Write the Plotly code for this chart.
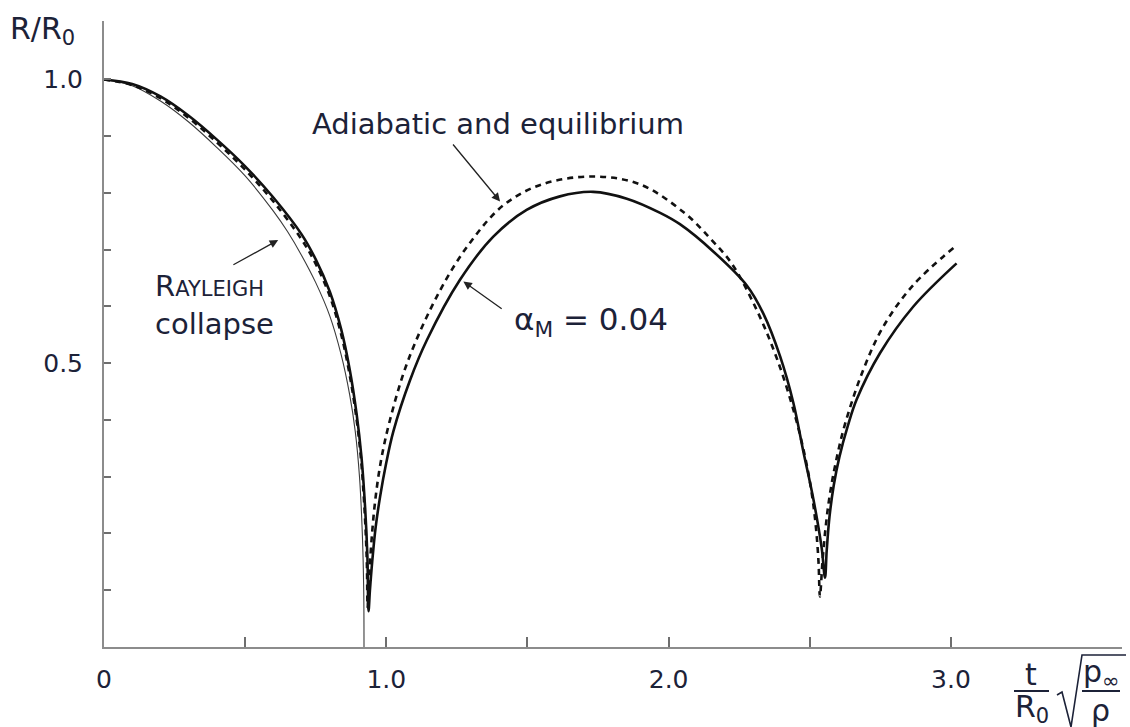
import plotly.graph_objects as go

# Rayleigh collapse of an empty cavity (R/R0 against scaled time)
rayleigh_t = [0.000, 0.100, 0.200, 0.300, 0.400, 0.500, 0.600, 0.650, 0.700, 0.750,
              0.800, 0.840, 0.870, 0.890, 0.905, 0.915, 0.920, 0.921]
rayleigh_r = [1.000, 0.989, 0.962, 0.925, 0.880, 0.830, 0.768, 0.732, 0.690, 0.642,
              0.583, 0.515, 0.445, 0.380, 0.300, 0.200, 0.100, 0.000]

# Gas-filled bubble with mass-transfer coefficient alpha_M = 0.04 (solid)
alpha_t = [0.000, 0.100, 0.200, 0.300, 0.400, 0.500, 0.600, 0.700, 0.750, 0.800,
           0.840, 0.870, 0.895, 0.912, 0.925, 0.933, 0.937,
           0.942, 0.950, 0.962, 0.978, 1.000, 1.025, 1.084, 1.143, 1.261, 1.379,
           1.497, 1.615, 1.733, 1.852, 1.970, 2.040, 2.158, 2.277, 2.336, 2.395,
           2.442, 2.477, 2.513, 2.542, 2.554,
           2.560, 2.570, 2.585, 2.605, 2.635, 2.666, 2.749, 2.867, 3.020]
alpha_r = [1.000, 0.992, 0.970, 0.936, 0.894, 0.847, 0.792, 0.727, 0.683, 0.626,
           0.560, 0.490, 0.410, 0.335, 0.245, 0.160, 0.063,
           0.100, 0.150, 0.210, 0.265, 0.325, 0.380, 0.470, 0.540, 0.647, 0.723,
           0.770, 0.794, 0.802, 0.790, 0.765, 0.745, 0.697, 0.637, 0.587, 0.512,
           0.430, 0.345, 0.260, 0.175, 0.122,
           0.170, 0.230, 0.285, 0.335, 0.390, 0.436, 0.518, 0.600, 0.676]

# Adiabatic and equilibrium bubble (dashed)
adiabatic_t = [0.000, 0.100, 0.200, 0.300, 0.400, 0.500, 0.600, 0.700, 0.750, 0.800,
               0.840, 0.870, 0.895, 0.912, 0.924, 0.931, 0.934,
               0.940, 0.948, 0.960, 0.980, 1.013, 1.078, 1.190, 1.296, 1.414, 1.550,
               1.733, 1.900, 2.058, 2.147, 2.223, 2.312, 2.383, 2.442, 2.483, 2.507,
               2.522, 2.531, 2.536,
               2.545, 2.556, 2.570, 2.592, 2.625, 2.690, 2.761, 2.867, 3.009]
adiabatic_r = [1.000, 0.990, 0.967, 0.932, 0.889, 0.841, 0.785, 0.718, 0.675, 0.618,
               0.551, 0.480, 0.400, 0.322, 0.232, 0.150, 0.070,
               0.130, 0.190, 0.255, 0.325, 0.400, 0.506, 0.628, 0.712, 0.778, 0.815,
               0.829, 0.815, 0.764, 0.720, 0.676, 0.594, 0.509, 0.418, 0.336, 0.271,
               0.210, 0.150, 0.089,
               0.150, 0.210, 0.265, 0.325, 0.393, 0.489, 0.565, 0.638, 0.703]

x_tick_vals = [0, 0.5, 1.0, 1.5, 2.0, 2.5, 3.0]
x_tick_text = ["0", "", "1.0", "", "2.0", "", "3.0"]
y_tick_vals = [0.1, 0.2, 0.3, 0.4, 0.5, 0.6, 0.7, 0.8, 0.9, 1.0]
y_tick_text = ["", "", "", "", "0.5", "", "", "", "", "1.0"]

W, H = 1130, 727
ML, MR, MT, MB = 104, 8, 21, 80
FONT = "DejaVu Sans"
TXT = "#1c2238"


def px(x):
    return (x - ML) / (W - ML - MR)


def py(y):
    return (H - MB - y) / (H - MT - MB)


fig = go.Figure()
fig.add_trace(go.Scatter(x=rayleigh_t, y=rayleigh_r, mode="lines",
                         line=dict(color="#3a3a3a", width=1.1, shape="spline", smoothing=1.0),
                         showlegend=False, hoverinfo="skip"))
fig.add_trace(go.Scatter(x=adiabatic_t, y=adiabatic_r, mode="lines",
                         line=dict(color="#111", width=2.6, dash="6px,5px", shape="spline", smoothing=1.0),
                         showlegend=False, hoverinfo="skip"))
fig.add_trace(go.Scatter(x=alpha_t, y=alpha_r, mode="lines",
                         line=dict(color="#111", width=2.6, shape="spline", smoothing=1.0),
                         showlegend=False, hoverinfo="skip"))

axis_common = dict(showline=True, linecolor="#8c8c8c", linewidth=2, showgrid=False,
                   zeroline=False, ticks="inside", tickcolor="#6e6e6e", tickwidth=1.6,
                   tickfont=dict(family=FONT, size=25, color=TXT))

fig.update_xaxes(range=[0, 3.606], tickmode="array", tickvals=x_tick_vals,
                 ticktext=x_tick_text, ticklen=10, ticklabelstandoff=9, **axis_common)
fig.update_yaxes(range=[0, 1.103], tickmode="array", tickvals=y_tick_vals,
                 ticktext=y_tick_text, ticklen=7, ticklabelstandoff=14, **axis_common)

ann = []
# curve labels
ann.append(dict(x=1.394, y=0.921, xref="x", yref="y", showarrow=False,
                text="Adiabatic and equilibrium", font=dict(family=FONT, size=29, color=TXT)))
ann.append(dict(x=0.174, y=0.603, xref="x", yref="y", showarrow=False, xanchor="left",
                align="left",
                text="R<span style='font-size:21px'>AYLEIGH</span><br>collapse",
                font=dict(family=FONT, size=29, color=TXT)))
ann.append(dict(x=1.446, y=0.573, xref="x", yref="y", showarrow=False, xanchor="left",
                text="\u03b1<sub>M</sub> = 0.04", font=dict(family=FONT, size=31, color=TXT)))

# pointer arrows
for (hx, hy, tx, ty) in [(0.617, 0.717, 0.453, 0.672),
                         (1.403, 0.785, 1.232, 0.888),
                         (1.273, 0.644, 1.414, 0.594)]:
    ann.append(dict(x=hx, y=hy, ax=tx, ay=ty, xref="x", yref="y", axref="x", ayref="y",
                    text="", showarrow=True, arrowhead=2, arrowsize=1.3, arrowwidth=1.3,
                    arrowcolor="#222"))


def label(text, x, y, size=30):
    return dict(x=px(x), y=py(y), xref="paper", yref="paper", showarrow=False,
                xanchor="center", yanchor="middle", text=text,
                font=dict(family=FONT, size=size, color=TXT))


# axis titles
ann.append(label("R/R<sub>0</sub>", 42, 30))
ann.append(label("t", 1031, 674))
ann.append(label("R<sub>0</sub>", 1032, 708))
ann.append(label("p<sub>\u221e</sub>", 1101, 673))
ann.append(label("\u03c1", 1100, 710))

shapes = [
    dict(type="line", xref="paper", yref="paper", x0=px(1014), x1=px(1049), y0=py(691), y1=py(691),
         line=dict(color=TXT, width=2)),
    dict(type="line", xref="paper", yref="paper", x0=px(1082), x1=px(1120), y0=py(691), y1=py(691),
         line=dict(color=TXT, width=2)),
    dict(type="path", xref="paper", yref="paper",
         path=f"M{px(1057)},{py(695)} L{px(1062)},{py(692)} L{px(1071)},{py(727)} "
              f"L{px(1082)},{py(655)} L{px(1126)},{py(655)}",
         line=dict(color=TXT, width=1.6)),
]

fig.update_layout(width=W, height=H, margin=dict(l=ML, r=MR, t=MT, b=MB),
                  plot_bgcolor="white", paper_bgcolor="white",
                  annotations=ann, shapes=shapes, showlegend=False)

fig.write_html("out.html")
